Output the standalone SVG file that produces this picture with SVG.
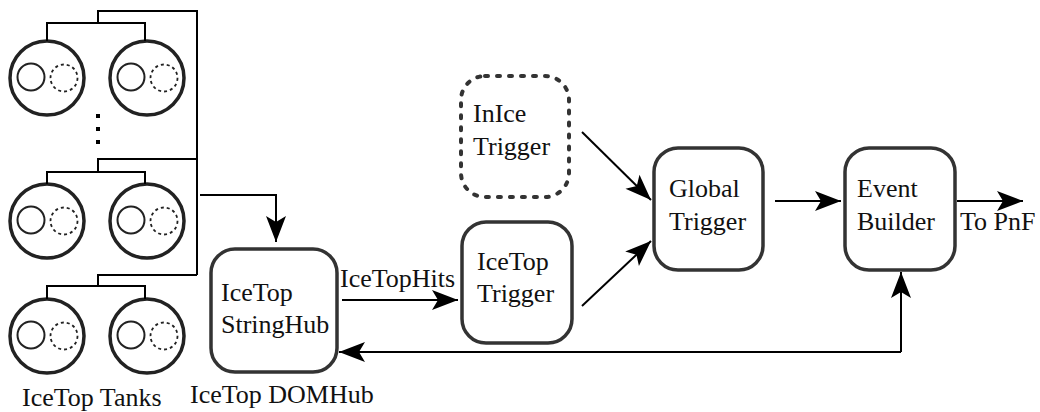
<svg xmlns="http://www.w3.org/2000/svg" width="1040" height="412" viewBox="0 0 1040 412">
<style>
text{font-family:"Liberation Serif","Times New Roman",serif;font-size:26px;fill:#111}
.box{fill:#fff;stroke:#333;stroke-width:3.5}
.dash{stroke-dasharray:3,9;stroke-linecap:round;stroke-width:4}
.tank{fill:#fff;stroke:#222;stroke-width:3.5}
.pmt{fill:none;stroke:#222;stroke-width:2}
.pmtd{fill:none;stroke:#222;stroke-width:1.8;stroke-dasharray:3,3}
.w{fill:none;stroke:#000;stroke-width:2}
.c{fill:none;stroke:#000;stroke-width:2}
</style>
<defs>
<marker id="ah" markerUnits="userSpaceOnUse" markerWidth="30" markerHeight="24" viewBox="-27 -12 30 24" refX="0" refY="0" orient="auto">
<path d="M0,0 L-26,-10 L-20,0 L-26,10 Z" fill="#000"/>
</marker>
<g id="tankShape">
<circle cx="0" cy="0" r="37" class="tank"/>
<circle cx="-16" cy="-1" r="13.5" class="pmt"/>
<circle cx="17" cy="0" r="13.5" class="pmtd"/>
</g>
</defs>

<g id="tanks">
<g id="tank-row1">
<use href="#tankShape" x="47" y="78"/>
<use href="#tankShape" x="147" y="78"/>
</g>
<g id="tank-row2">
<use href="#tankShape" x="47" y="221"/>
<use href="#tankShape" x="147" y="221"/>
</g>
<g id="tank-row3">
<use href="#tankShape" x="47" y="336"/>
<use href="#tankShape" x="147" y="336"/>
</g>
<g id="dots" fill="#000">
<rect x="96" y="114" width="4" height="4"/>
<rect x="96" y="127" width="4" height="4"/>
<rect x="96" y="140" width="4" height="4"/>
</g>
<text id="tanks-label" x="22" y="406">IceTop Tanks</text>
</g>

<g id="stringhub">
<rect x="211" y="249" width="126" height="123" rx="24" class="box"/>
<text x="221" y="301">IceTop</text>
<text x="221" y="333">StringHub</text>
<text x="190" y="403">IceTop DOMHub</text>
</g>

<g id="icetop-trigger">
<rect x="462" y="222" width="110" height="121" rx="24" class="box"/>
<text x="477" y="270">IceTop</text>
<text x="477" y="302">Trigger</text>
</g>

<g id="inice-trigger">
<rect x="461" y="76" width="108" height="121" rx="24" class="box dash"/>
<text x="473" y="122">InIce</text>
<text x="473" y="155">Trigger</text>
</g>

<g id="global-trigger">
<rect x="654" y="148" width="109" height="122" rx="24" class="box"/>
<text x="669" y="197">Global</text>
<text x="669" y="230">Trigger</text>
</g>

<g id="event-builder">
<rect x="845" y="148" width="110" height="122" rx="24" class="box"/>
<text x="857" y="197">Event</text>
<text x="857" y="230">Builder</text>
</g>

<g id="connectors">
<path class="w" d="M47,41 V23 H145 V41 M98,23 V11 H197 V275"/>
<path class="w" d="M47,184 V172 H145 V184 M98,172 V159 H197"/>
<path class="w" d="M47,299 V286 H145 V299 M98,286 V275 H197"/>
<path class="c" d="M200,195 H276 V242" marker-end="url(#ah)"/>
<path class="c" d="M342,300 H458" marker-end="url(#ah)"/>
<text x="340" y="287">IceTopHits</text>
<path class="c" d="M582,132 L651,200" marker-end="url(#ah)"/>
<path class="c" d="M582,306 L651,241" marker-end="url(#ah)"/>
<path class="c" d="M775,201 H841" marker-end="url(#ah)"/>
<path class="c" d="M957,201 H1023" marker-end="url(#ah)"/>
<text x="960" y="230">To PnF</text>
<path class="c" d="M901,352 V272" marker-end="url(#ah)"/>
<path class="c" d="M901,352 H339" marker-end="url(#ah)"/>
</g>
</svg>
